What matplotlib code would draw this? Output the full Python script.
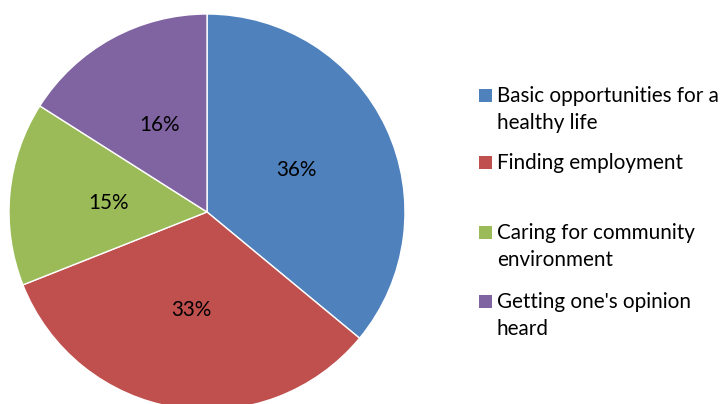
import matplotlib
matplotlib.use("Agg")
import matplotlib.pyplot as plt
from matplotlib.patches import Rectangle

labels = ["Basic opportunities for a\nhealthy life", "Finding employment",
          "Caring for community\nenvironment", "Getting one's opinion\nheard"]
values = [36, 33, 15, 16]
colors = ["#4F81BD", "#C0504D", "#9BBB59", "#8064A2"]

W, H = 722, 404
fig = plt.figure(figsize=(W / 100, H / 100), dpi=100)
plt.rcParams['font.family'] = ['Lato', 'DejaVu Sans']
FS = 14.9

cx, cy, R = 207, 212, 198
ax = fig.add_axes([(cx - R) / W, (H - cy - R) / H, 2 * R / W, 2 * R / H])
wedges, texts, autotexts = ax.pie(values, colors=colors, startangle=90, counterclock=False,
                                  autopct=lambda p: f"{p:.0f}%", pctdistance=0.5,
                                  wedgeprops=dict(edgecolor="white", linewidth=1.0),
                                  textprops=dict(fontsize=FS, color="black"))
ax.set_xlim(-1, 1)
ax.set_ylim(-1, 1)
ax.set_aspect("equal")
ax.axis("off")
for w in wedges:
    w.set_clip_on(False)

# legend (manual)
first_baselines = [102, 169, 239, 308]
line_step = 27
sq = 13
for lab, col, yb in zip(labels, colors, first_baselines):
    fig.patches.append(Rectangle((479 / W, (H - (yb - 6.5) - sq / 2) / H), sq / W, sq / H,
                                 transform=fig.transFigure, facecolor=col, edgecolor="none"))
    for i, line in enumerate(lab.split("\n")):
        fig.text(497 / W, (H - (yb + i * line_step)) / H, line, fontsize=FS,
                 va="baseline", ha="left", color="black")

fig.savefig("out.png", dpi=100, facecolor="white")
